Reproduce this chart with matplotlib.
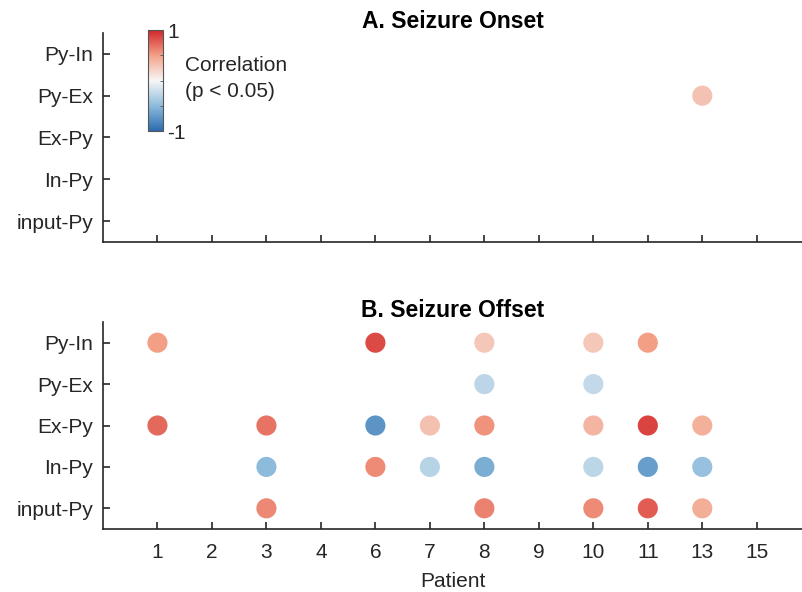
import matplotlib
matplotlib.use("Agg")
import matplotlib.pyplot as plt
import numpy as np
from matplotlib.colors import LinearSegmentedColormap, Normalize

plt.rcParams["font.family"] = ["Liberation Sans", "DejaVu Sans"]

patients = ["1", "2", "3", "4", "6", "7", "8", "9", "10", "11", "13", "15"]
connections = ["input-Py", "In-Py", "Ex-Py", "Py-Ex", "Py-In"]

# Onset: (patient, connection, correlation)
onset_patient = ["13"]
onset_conn = ["Py-Ex"]
onset_corr = [0.30]

# Offset
offset_patient = ["1", "6", "8", "10", "11",
                  "8", "10",
                  "1", "3", "6", "7", "8", "10", "11", "13",
                  "3", "6", "7", "8", "10", "11", "13",
                  "3", "8", "10", "11", "13"]
offset_conn = ["Py-In"] * 5 + ["Py-Ex"] * 2 + ["Ex-Py"] * 8 + ["In-Py"] * 7 + ["input-Py"] * 5
offset_corr = [0.50, 0.85, 0.28, 0.28, 0.50,
               -0.28, -0.25,
               0.72, 0.68, -0.75, 0.32, 0.55, 0.38, 0.88, 0.40,
               -0.50, 0.58, -0.30, -0.58, -0.28, -0.68, -0.45,
               0.60, 0.62, 0.58, 0.78, 0.42]

cmap = LinearSegmentedColormap.from_list(
    "corr", ["#2b6cb0", "#8dbbdb", "#f7f7f7", "#f2a086", "#d3262a"])
norm = Normalize(-1, 1)

fig = plt.figure(figsize=(8.02, 5.92), dpi=100)
ax1 = fig.add_axes([0.1284, 0.5912, 0.8716, 0.3531])
ax2 = fig.add_axes([0.1284, 0.1064, 0.8716, 0.3497])

dark = "#262626"
fs = 15
def style(ax, title, show_x):
    ax.set_xlim(0, 12.83)
    ax.set_ylim(0.5, 5.5)
    ax.set_xticks(np.arange(1, len(patients) + 1))
    ax.set_yticks(np.arange(1, len(connections) + 1))
    ax.set_yticklabels(connections)
    if show_x:
        ax.set_xticklabels(patients)
    else:
        ax.set_xticklabels([])
    for s in ["top", "right"]:
        ax.spines[s].set_visible(False)
    for s in ["left", "bottom"]:
        ax.spines[s].set_color(dark)
        ax.spines[s].set_linewidth(1.2)
    ax.tick_params(direction="in", length=5, width=1.2, color=dark,
                   labelcolor=dark, labelsize=fs)
    ax.tick_params(axis="y", pad=7)
    ax.tick_params(axis="x", pad=10)
    ax.set_title(title, fontsize=16.5, fontweight="bold", pad=3)

def pos(plist, clist):
    x = [patients.index(p) + 1 for p in plist]
    y = [connections.index(c) + 1 for c in clist]
    return x, y

x, y = pos(onset_patient, onset_conn)
ax1.scatter(x, y, c=onset_corr, cmap=cmap, norm=norm, s=210, edgecolors="none", clip_on=False)
x, y = pos(offset_patient, offset_conn)
ax2.scatter(x, y, c=offset_corr, cmap=cmap, norm=norm, s=210, edgecolors="none", clip_on=False)

style(ax1, "A. Seizure Onset", False)
style(ax2, "B. Seizure Offset", True)
ax2.set_xlabel("Patient", fontsize=fs, color=dark, labelpad=7)

cax = fig.add_axes([0.1845, 0.7787, 0.0187, 0.1706])
sm = plt.cm.ScalarMappable(norm=norm, cmap=cmap)
cb = fig.colorbar(sm, cax=cax, ticks=[-1, 1])
cb.ax.set_yticklabels(["-1", "1"])
cb.ax.tick_params(length=0, labelsize=fs, labelcolor=dark, pad=3)
cb.ax.set_yticks([-0.5, 0, 0.5], minor=True)
cb.ax.tick_params(which="minor", direction="in", length=2, color="#555555")
cb.outline.set_edgecolor("#555555")
cb.outline.set_linewidth(0.8)
fig.text(0.231, 0.889, "Correlation", fontsize=fs, color=dark, va="center", ha="left")
fig.text(0.231, 0.846, "(p < 0.05)", fontsize=fs, color=dark, va="center", ha="left")

fig.savefig("out.png", dpi=100)
